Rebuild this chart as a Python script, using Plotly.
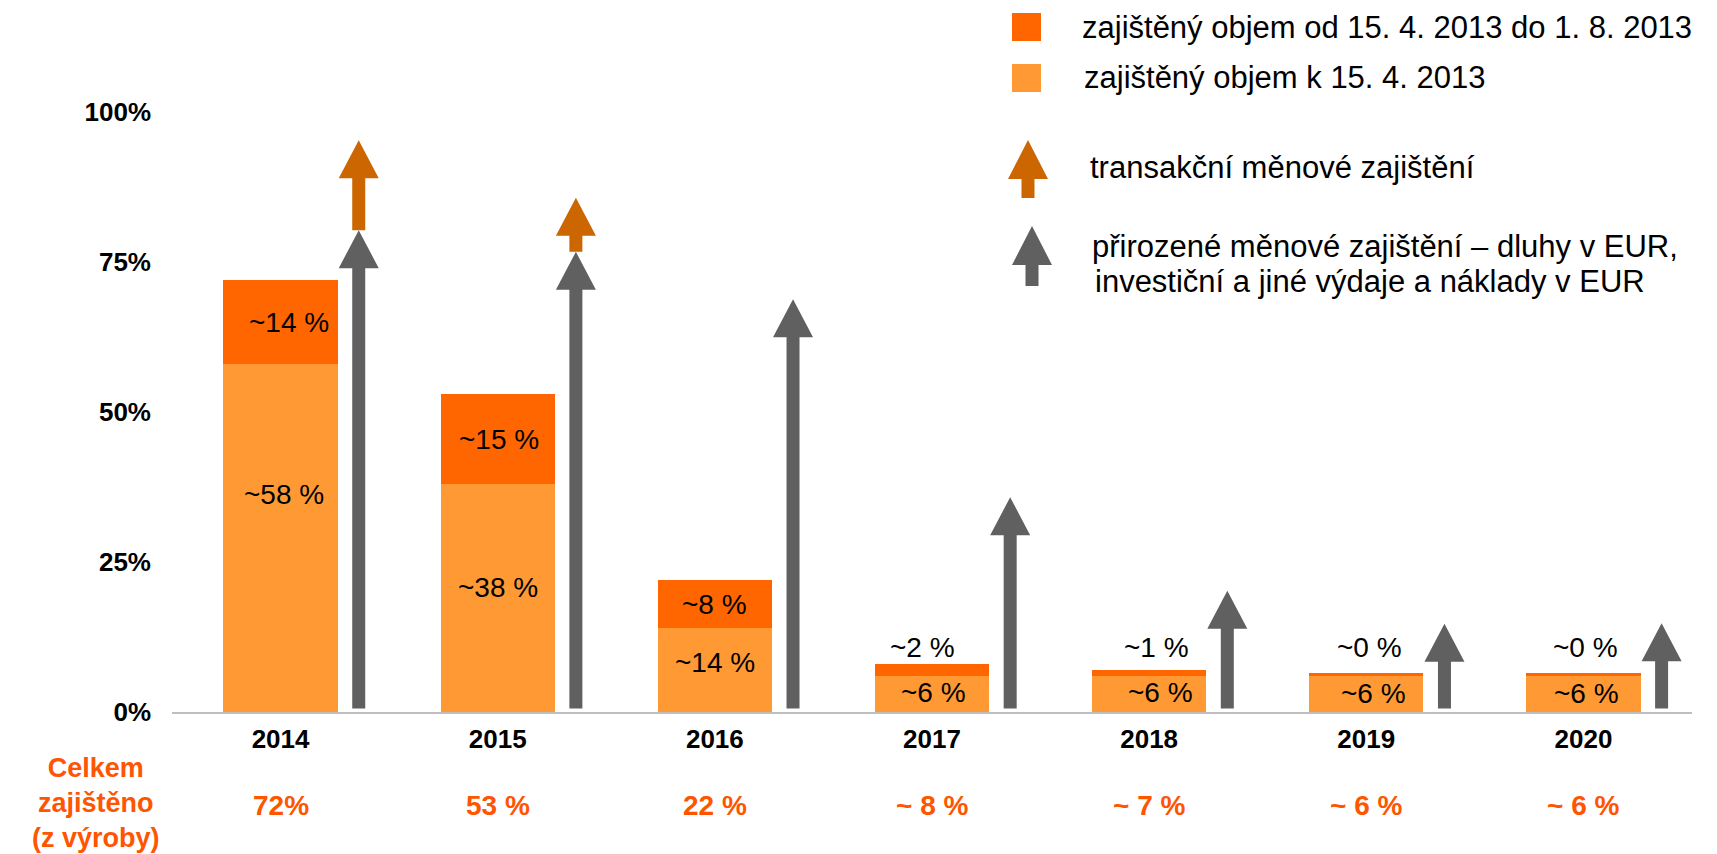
import plotly.graph_objects as go

# ---------------- data ----------------
years = ["2014", "2015", "2016", "2017", "2018", "2019", "2020"]
hedged_base = [58, 38, 14, 6, 6, 6, 6]            # zajištěný objem k 15. 4. 2013
hedged_added = [14, 15, 8, 2, 1, 0.5, 0.5]         # zajištěný objem od 15. 4. 2013 do 1. 8. 2013
base_labels = ["~58 %", "~38 %", "~14 %", "~6 %", "~6 %", "~6 %", "~6 %"]
added_labels = ["~14 %", "~15 %", "~8 %", "~2 %", "~1 %", "~0 %", "~0 %"]
total_labels = ["72%", "53 %", "22 %", "~ 8 %", "~ 7 %", "~ 6 %", "~ 6 %"]
natural_hedge_top = [80.3, 76.7, 68.8, 35.8, 20.2, 14.7, 14.8]      # grey arrows (tip)
transaction_hedge_top = [95.3, 85.7, None, None, None, None, None]  # orange arrows (tip)

# ---------------- style / layout constants ----------------
FONT = "Liberation Sans, Arial, sans-serif"
C_DARK = "#FF6600"
C_LIGHT = "#FF9933"
C_ARROW_OR = "#CC6600"
C_ARROW_GR = "#606060"
C_TOTAL = "#FF5500"

OFF = 8  # page body margin
W, H = 1717 - OFF, 854 - OFF
PLOT_L, PLOT_T, PW, PH = 172, 112, 1520, 600   # plot area in page pixels
ML, MT = PLOT_L - OFF, PLOT_T - OFF
MR, MB = W - ML - PW, H - MT - PH
XR = (-0.5, 6.5)
YR = (0, 100)
px_per_x = PW / (XR[1] - XR[0])
px_per_y = PH / (YR[1] - YR[0])

ARROW_OFF = 0.36
SHAFT_HW = 6.5 / px_per_x
HEAD_HW = 20 / px_per_x
HEAD_H = 38 / px_per_y
ARROW_BASE = 0.6

base_label_y = [36.2, 20.7, 8.3, 3.2, 3.2, 3.1, 3.1]
base_label_dx = [3, 0, 0, 1, 11, 7, 3]
added_label_dx = [8, 1, 0, -10, 7, 3, 2]
small_label_y = 10.8


def pxp(x):  # page pixel x -> paper
    return (x - PLOT_L) / PW


def pyp(y):  # page pixel y -> paper
    return (PLOT_T + PH - y) / PH


xs = list(range(len(years)))

fig = go.Figure()
fig.add_trace(go.Bar(x=xs, y=hedged_base, marker=dict(color=C_LIGHT, line=dict(width=0)),
                     width=0.526, name="zajištěný objem k 15. 4. 2013", showlegend=False))
fig.add_trace(go.Bar(x=xs, y=hedged_added, marker=dict(color=C_DARK, line=dict(width=0)),
                     width=0.526, name="zajištěný objem od 15. 4. 2013 do 1. 8. 2013", showlegend=False))


def arrow_poly(xc, y0, tip):
    hb = tip - HEAD_H
    px = [xc - SHAFT_HW, xc - SHAFT_HW, xc - HEAD_HW, xc, xc + HEAD_HW, xc + SHAFT_HW, xc + SHAFT_HW, xc - SHAFT_HW]
    py = [y0, hb, hb, tip, hb, hb, y0, y0]
    return px, py


for i, tip in enumerate(natural_hedge_top):
    px, py = arrow_poly(i + ARROW_OFF, ARROW_BASE, tip)
    fig.add_trace(go.Scatter(x=px, y=py, mode="lines", fill="toself", fillcolor=C_ARROW_GR,
                             line=dict(width=0, color=C_ARROW_GR), hoverinfo="skip", showlegend=False))
for i, tip in enumerate(transaction_hedge_top):
    if tip is None:
        continue
    px, py = arrow_poly(i + ARROW_OFF, natural_hedge_top[i], tip)
    fig.add_trace(go.Scatter(x=px, y=py, mode="lines", fill="toself", fillcolor=C_ARROW_OR,
                             line=dict(width=0, color=C_ARROW_OR), hoverinfo="skip", showlegend=False))

ann = []
for i in xs:
    ann.append(dict(x=i, y=base_label_y[i], xref="x", yref="y", text=base_labels[i], showarrow=False,
                    xshift=base_label_dx[i], font=dict(family=FONT, size=28, color="black")))
    if hedged_added[i] >= 5:
        ty = hedged_base[i] + hedged_added[i] / 2
    else:
        ty = small_label_y
    ann.append(dict(x=i, y=ty, xref="x", yref="y", text=added_labels[i], showarrow=False,
                    xshift=added_label_dx[i], font=dict(family=FONT, size=28, color="black")))
    ann.append(dict(x=i, y=pyp(805), xref="x", yref="paper", text=total_labels[i],
                    showarrow=False, yanchor="middle",
                    font=dict(family=FONT, size=28, color=C_TOTAL, weight="bold")))

ann.append(dict(x=pxp(96), y=pyp(803), xref="paper", yref="paper",
                text="Celkem<br>zajištěno<br>(z výroby)", showarrow=False, align="center",
                xanchor="center", yanchor="middle",
                font=dict(family=FONT, size=27, color=C_TOTAL, weight="bold")))

legend_text = [
    ("zajištěný objem od 15. 4. 2013 do 1. 8. 2013", 1080, 27),
    ("zajištěný objem k 15. 4. 2013", 1082, 77),
    ("transakční měnové zajištění", 1088, 167),
    ("přirozené měnové zajištění – dluhy v EUR,", 1090, 246),
    ("investiční a jiné výdaje a náklady v EUR", 1093, 281),
]
for t, x, y in legend_text:
    ann.append(dict(x=pxp(x), y=pyp(y), xref="paper", yref="paper", text=t, showarrow=False,
                    xanchor="left", yanchor="middle", font=dict(family=FONT, size=31, color="black")))

shapes = [
    dict(type="rect", xref="paper", yref="paper", x0=pxp(1012), x1=pxp(1041), y0=pyp(41), y1=pyp(13),
         fillcolor=C_DARK, line=dict(width=0)),
    dict(type="rect", xref="paper", yref="paper", x0=pxp(1012), x1=pxp(1041), y0=pyp(92), y1=pyp(64),
         fillcolor=C_LIGHT, line=dict(width=0)),
]


def legend_arrow(xc, tip, hb, bottom, color):
    pts = [(xc - 6.5, bottom), (xc - 6.5, hb), (xc - 20, hb), (xc, tip), (xc + 20, hb), (xc + 6.5, hb), (xc + 6.5, bottom)]
    path = "M " + " L ".join(f"{pxp(a):.5f},{pyp(b):.5f}" for a, b in pts) + " Z"
    return dict(type="path", xref="paper", yref="paper", path=path, fillcolor=color, line=dict(width=0))


shapes.append(legend_arrow(1028, 140, 179, 198, C_ARROW_OR))
shapes.append(legend_arrow(1032, 226, 265, 286, C_ARROW_GR))

fig.update_layout(
    width=W, height=H,
    margin=dict(l=ML, r=MR, t=MT, b=MB, pad=0),
    paper_bgcolor="white", plot_bgcolor="white",
    barmode="stack", bargap=0,
    showlegend=False,
    annotations=ann, shapes=shapes,
    font=dict(family=FONT),
    xaxis=dict(range=list(XR), tickvals=xs, ticktext=years, showgrid=False, zeroline=False,
               showline=True, linecolor="#BFBFBF", linewidth=2, ticks="",
               tickfont=dict(family=FONT, size=26, color="black", weight="bold"),
               ticklabelstandoff=3, fixedrange=True),
    yaxis=dict(range=list(YR), tickvals=[0, 25, 50, 75, 100], ticktext=["0%", "25%", "50%", "75%", "100%"],
               showgrid=False, zeroline=False, showline=False, ticks="",
               tickfont=dict(family=FONT, size=26, color="black", weight="bold"),
               ticklabelstandoff=20, fixedrange=True),
)

fig.write_html("out.html")
